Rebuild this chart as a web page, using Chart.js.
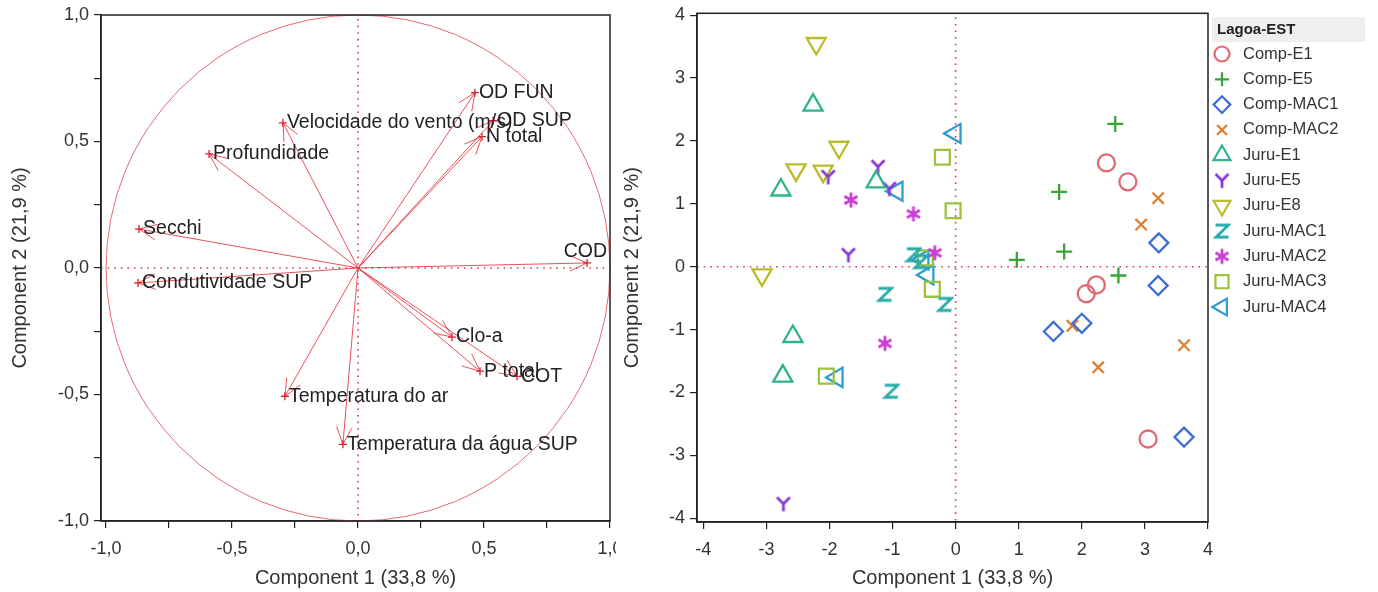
<!DOCTYPE html>
<html>
<head>
<meta charset="utf-8">
<script src="https://cdn.jsdelivr.net/npm/chart.js@4.4.1/dist/chart.umd.min.js"></script>
<style>
    body { margin: 0; background: #fff; width: 1378px; height: 592px; overflow: hidden; position: relative; }
    #leftBox { position: absolute; left: 0; top: 0; width: 616px; height: 592px; }
    #rightBox { position: absolute; left: 616px; top: 0; width: 762px; height: 592px; }
</style>
</head>
<body>
<div id="leftBox"><canvas id="loadingsChart"></canvas></div>
<div id="rightBox"><canvas id="scoresChart"></canvas></div>
<script>
// Loadings (levý graf)
const variableNames = ['OD FUN', 'OD SUP', 'N total', 'Velocidade do vento (m/s)', 'Profundidade', 'Secchi', 'COD',
    'Condutividade SUP', 'Clo-a', 'P total', 'COT', 'Temperatura do ar', 'Temperatura da água SUP'];
const loadingX = [0.464, 0.536, 0.492, -0.298, -0.591, -0.869, 0.909, -0.873, 0.373, 0.484, 0.631, -0.290, -0.060];
const loadingY = [0.693, 0.582, 0.519, 0.574, 0.451, 0.154, 0.020, -0.059, -0.273, -0.408, -0.428, -0.507, -0.697];

// Scores (pravý graf)
const groupNames = ['Comp-E1', 'Comp-E5', 'Comp-MAC1', 'Comp-MAC2', 'Juru-E1', 'Juru-E5', 'Juru-E8',
    'Juru-MAC1', 'Juru-MAC2', 'Juru-MAC3', 'Juru-MAC4'];
const compE1 = [[2.39, 1.65], [2.73, 1.35], [2.23, -0.29], [2.07, -0.43], [3.05, -2.74]];
const compE5 = [[2.53, 2.27], [1.64, 1.19], [1.72, 0.24], [0.97, 0.11], [2.58, -0.14]];
const compMAC1 = [[3.22, 0.38], [3.21, -0.30], [1.55, -1.03], [2.00, -0.90], [3.62, -2.71]];
const compMAC2 = [[3.21, 1.09], [2.94, 0.67], [1.85, -0.94], [3.62, -1.25], [2.26, -1.60]];
const juruE1 = [[-2.26, 2.57], [-2.77, 1.22], [-1.26, 1.35], [-2.58, -1.11], [-2.74, -1.74]];
const juruE5 = [[-2.02, 1.43], [-1.23, 1.59], [-1.05, 1.24], [-1.70, 0.19], [-2.73, -3.77]];
const juruE8 = [[-2.21, 3.55], [-1.85, 1.90], [-2.53, 1.54], [-2.10, 1.52], [-3.07, -0.13]];
const juruMAC1 = [[-0.67, 0.19], [-0.55, 0.08], [-1.12, -0.44], [-0.17, -0.60], [-1.02, -1.98]];
const juruMAC2 = [[-1.66, 1.06], [-0.67, 0.84], [-0.33, 0.22], [-1.12, -1.22]];
const juruMAC3 = [[-0.21, 1.74], [-0.04, 0.89], [-0.48, 0.14], [-0.37, -0.36], [-2.05, -1.74]];
const juruMAC4 = [[-0.01, 2.12], [-0.93, 1.20], [-0.52, 0.11], [-0.44, -0.13], [-1.88, -1.76]];
const groupPoints = [compE1, compE5, compMAC1, compMAC2, juruE1, juruE5, juruE8, juruMAC1, juruMAC2, juruMAC3, juruMAC4];

const groupColors = ['#df6a72', '#36a534', '#3d6dd8', '#dc8232', '#2db48e', '#8c38d4', '#bcbb2c',
    '#27abab', '#cc3ed6', '#9cc23e', '#2f9bd3'];

const fontFamily = "'Liberation Sans', Arial, sans-serif";
Chart.defaults.font.family = fontFamily;
Chart.defaults.font.size = 19;
Chart.defaults.color = '#333';

// vlastní značky Y, Z a hvězdička
function makeGlyph(color, draw) {
    const c = document.createElement('canvas');
    c.width = 18;
    c.height = 18;
    const g = c.getContext('2d');
    g.strokeStyle = color;
    g.lineWidth = 2.8;
    g.beginPath();
    draw(g);
    g.stroke();
    return c;
}
const yGlyph = makeGlyph(groupColors[5], g => {
    g.moveTo(2.5, 2.5); g.lineTo(9, 9); g.lineTo(15.5, 2.5);
    g.moveTo(9, 9); g.lineTo(9, 16.5);
});
const zGlyph = makeGlyph(groupColors[7], g => {
    g.moveTo(2.5, 3); g.lineTo(15.5, 3); g.lineTo(3, 15); g.lineTo(15.5, 15);
});
const starGlyph = makeGlyph(groupColors[8], g => {
    g.moveTo(9, 1.5); g.lineTo(9, 16.5);
    g.moveTo(2.5, 5.2); g.lineTo(15.5, 12.8);
    g.moveTo(2.5, 12.8); g.lineTo(15.5, 5.2);
});

const groupStyles = [
    { pointStyle: 'circle', rotation: 0, radius: 8.5 },
    { pointStyle: 'cross', rotation: 0, radius: 8 },
    { pointStyle: 'rectRot', rotation: 0, radius: 9.5 },
    { pointStyle: 'crossRot', rotation: 0, radius: 8 },
    { pointStyle: 'triangle', rotation: 0, radius: 11 },
    { pointStyle: yGlyph, rotation: 0, radius: 8 },
    { pointStyle: 'triangle', rotation: 180, radius: 11 },
    { pointStyle: zGlyph, rotation: 0, radius: 8 },
    { pointStyle: starGlyph, rotation: 0, radius: 8 },
    { pointStyle: 'rect', rotation: 0, radius: 10.5 },
    { pointStyle: 'triangle', rotation: 270, radius: 11 }
];

const dotColor = '#d2404e';
const arrowColor = 'rgba(226, 52, 62, 0.85)';

function halfLabel(v) {
    return Math.abs(v * 2 - Math.round(v * 2)) < 1e-6 ? v.toFixed(1).replace('.', ',') : '';
}

function axis(min, max, step, size, title, isX, titlePad, cb) {
    return {
        type: 'linear',
        min: min,
        max: max,
        position: isX ? 'bottom' : 'left',
        ticks: { stepSize: step, includeBounds: false, autoSkip: false, maxRotation: 0, padding: isX ? 10 : 5, color: '#333', font: { size: 18 }, callback: cb },
        grid: { drawOnChartArea: false, drawTicks: true, tickLength: 7, color: '#222', lineWidth: 1.2 },
        border: { display: true, color: '#222', width: 1.5 },
        title: { display: true, text: title, color: '#333', font: { size: 20 }, padding: isX ? { top: 0, bottom: titlePad } : { top: titlePad, bottom: 0 } },
        afterFit: s => {
            if (isX) { s.height = size; } else { s.width = size; }
            s.paddingLeft = 0; s.paddingRight = 0; s.paddingTop = 0; s.paddingBottom = 0;
        }
    };
}

// tečkované osy a rámeček
const crossLines = {
    id: 'crossLines',
    beforeDatasetsDraw(chart) {
        const { ctx, chartArea: a, scales: { x, y } } = chart;
        const px = x.getPixelForValue(0), py = y.getPixelForValue(0);
        ctx.save();
        ctx.strokeStyle = dotColor;
        ctx.lineWidth = 1.6;
        ctx.setLineDash([1.6, 5]);
        ctx.beginPath();
        ctx.moveTo(a.left, py); ctx.lineTo(a.right, py);
        ctx.moveTo(px, a.top + 4); ctx.lineTo(px, a.bottom);
        ctx.stroke();
        ctx.restore();
    },
    afterDraw(chart) {
        const { ctx, chartArea: a } = chart;
        ctx.save();
        ctx.strokeStyle = '#222';
        ctx.lineWidth = 1.5;
        ctx.strokeRect(a.left, a.top, a.right - a.left, a.bottom - a.top);
        ctx.restore();
    }
};

// kruh, šipky a popisky
const loadingDecor = {
    id: 'loadingDecor',
    beforeDatasetsDraw(chart) {
        const { ctx, scales: { x, y } } = chart;
        const cx = x.getPixelForValue(0), cy = y.getPixelForValue(0);
        ctx.save();
        ctx.strokeStyle = '#e36a72';
        ctx.lineWidth = 1;
        ctx.beginPath();
        ctx.ellipse(cx, cy, x.getPixelForValue(1) - cx, cy - y.getPixelForValue(1), 0, 0, Math.PI * 2);
        ctx.stroke();
        ctx.restore();
    },
    afterDatasetsDraw(chart) {
        const { ctx, chartArea: a, scales: { x, y } } = chart;
        const cx = x.getPixelForValue(0), cy = y.getPixelForValue(0);
        ctx.save();
        ctx.strokeStyle = arrowColor;
        ctx.lineWidth = 1;
        variableNames.forEach((name, i) => {
            const tx = x.getPixelForValue(loadingX[i]), ty = y.getPixelForValue(loadingY[i]);
            const ang = Math.atan2(ty - cy, tx - cx);
            ctx.beginPath();
            [0.42, -0.42].forEach(d => {
                ctx.moveTo(tx, ty);
                ctx.lineTo(tx - 19 * Math.cos(ang + d), ty - 19 * Math.sin(ang + d));
            });
            ctx.stroke();
        });
        ctx.fillStyle = '#222';
        ctx.font = '19.5px ' + fontFamily;
        ctx.textBaseline = 'middle';
        variableNames.forEach((name, i) => {
            let tx = x.getPixelForValue(loadingX[i]) + 4, ty = y.getPixelForValue(loadingY[i]);
            const w = ctx.measureText(name).width;
            if (tx + w > a.right) {
                tx = a.right - w - 3;
                ty -= 11;
            }
            ctx.fillText(name, tx, ty);
        });
        ctx.restore();
    }
};

// legenda vpravo
const sideLegend = {
    id: 'sideLegend',
    afterDraw(chart) {
        const { ctx, chartArea: a } = chart;
        const left = a.right + 4;
        ctx.save();
        ctx.fillStyle = '#efefef';
        ctx.fillRect(left, 17, 153, 25);
        ctx.fillStyle = '#222';
        ctx.font = 'bold 15px ' + fontFamily;
        ctx.textBaseline = 'middle';
        ctx.fillText('Lagoa-EST', left + 5, 30);
        ctx.font = '16.5px ' + fontFamily;
        chart.data.datasets.forEach((ds, i) => {
            const yy = 54 + i * 25.3;
            const st = groupStyles[i];
            ctx.strokeStyle = ds.borderColor;
            ctx.fillStyle = 'rgba(0,0,0,0)';
            ctx.lineWidth = 2.2;
            Chart.helpers.drawPoint(ctx, { pointStyle: st.pointStyle, rotation: st.rotation, radius: st.radius * 0.88, borderWidth: 2.2 }, left + 10, yy);
            ctx.fillStyle = '#333';
            ctx.fillText(ds.label, left + 31, yy);
        });
        ctx.restore();
    }
};

const loadingsChart = new Chart(document.getElementById('loadingsChart'), {
    type: 'scatter',
    data: {
        datasets: variableNames.map((name, i) => ({
            label: name,
            data: [{ x: 0, y: 0 }, { x: loadingX[i], y: loadingY[i] }],
            showLine: true,
            borderColor: arrowColor,
            borderWidth: 1,
            pointStyle: 'cross',
            pointRadius: [0, 4],
            pointBorderColor: '#d8202c',
            pointBorderWidth: 1.3
        }))
    },
    options: {
        responsive: true,
        maintainAspectRatio: false,
        animation: false,
        layout: { padding: { top: 15, right: 6, left: 0, bottom: 0 } },
        scales: {
            x: axis(-1.02, 1, 0.25, 71, 'Component 1 (33,8 %)', true, 2, halfLabel),
            y: axis(-1, 1, 0.25, 101, 'Component 2 (21,9 %)', false, 8, halfLabel)
        },
        plugins: { legend: { display: false }, tooltip: { enabled: false } }
    },
    plugins: [crossLines, loadingDecor]
});

const scoresChart = new Chart(document.getElementById('scoresChart'), {
    type: 'scatter',
    data: {
        datasets: groupNames.map((name, i) => ({
            label: name,
            data: groupPoints[i].map(p => ({ x: p[0], y: p[1] })),
            pointStyle: groupStyles[i].pointStyle,
            rotation: groupStyles[i].rotation,
            pointRadius: groupStyles[i].radius,
            borderColor: groupColors[i],
            backgroundColor: 'rgba(0,0,0,0)',
            borderWidth: 2.3
        }))
    },
    options: {
        responsive: true,
        maintainAspectRatio: false,
        animation: false,
        layout: { padding: { top: 11, right: 170, left: 0, bottom: 0 } },
        scales: {
            x: axis(-4.1, 4, 1, 70, 'Component 1 (33,8 %)', true, 2),
            y: axis(-4.06, 4.03, 1, 81, 'Component 2 (21,9 %)', false, 4)
        },
        plugins: { legend: { display: false }, tooltip: { enabled: false } }
    },
    plugins: [crossLines, sideLegend]
});
</script>
</body>
</html>
